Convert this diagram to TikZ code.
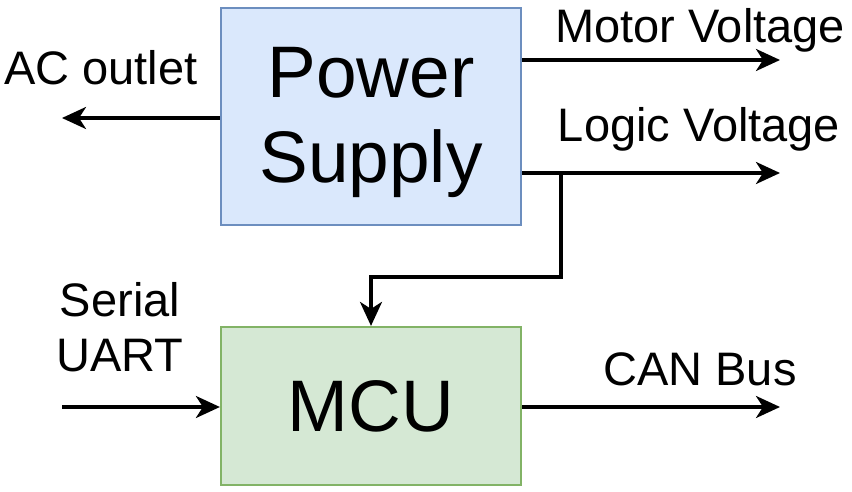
\documentclass[tikz,border=0pt]{standalone}
\usepackage{fontspec}
\setmainfont{Liberation Sans}
\usetikzlibrary{arrows.meta}
\definecolor{psfill}{HTML}{DAE8FC}
\definecolor{psdraw}{HTML}{6C8EBF}
\definecolor{mcufill}{HTML}{D5E8D4}
\definecolor{mcudraw}{HTML}{82B366}
\tikzset{
  blk/.style={line width=2.2pt, inner sep=0pt, align=center, font=\fontsize{73}{85}\selectfont},
  conn/.style={line width=3.5pt, -{Stealth[length=24pt,width=22pt,inset=7pt]}},
  lbl/.style={inner sep=0pt, align=center, font=\fontsize{47}{55}\selectfont},
}
\begin{document}
\begin{tikzpicture}[x=1pt,y=-1pt]
\useasboundingbox (0,0) rectangle (852,492);
\node[blk, fill=psfill, draw=psdraw, minimum width=300pt, minimum height=217pt] (ps) at (371,116.5) {};
\node[blk, inner sep=0pt] (pst) at (371,122) {Power\\Supply};
\node[blk, fill=mcufill, draw=mcudraw, minimum width=300pt, minimum height=158pt] (mcu) at (371,406) {MCU};
\coordinate (ac) at (62,118);
\coordinate (mv) at (780,60);
\coordinate (lv) at (780,173);
\coordinate (ua) at (62,407);
\coordinate (cb) at (780,407);
\coordinate (br) at (561,173);
\draw[conn] (ps.west |- ac) -- (ac);
\draw[conn] (ps.east |- mv) -- (mv);
\draw[conn] (ps.east |- lv) -- (lv);
\draw[conn] (br) -- (561,277) -- (371,277) -- (mcu.north);
\draw[conn] (ua) -- (mcu.west |- ua);
\draw[conn] (mcu.east |- cb) -- (cb);
\node[lbl] (tac) at (101,68) {AC outlet};
\node[lbl] (tmv) at (700,30) {Motor Voltage};
\node[lbl] (tlv) at (699,129) {Logic Voltage};
\node[lbl] (tsu) at (120,327) {Serial\\UART};
\node[lbl] (tcb) at (700,369) {CAN Bus};
\end{tikzpicture}
\end{document}
